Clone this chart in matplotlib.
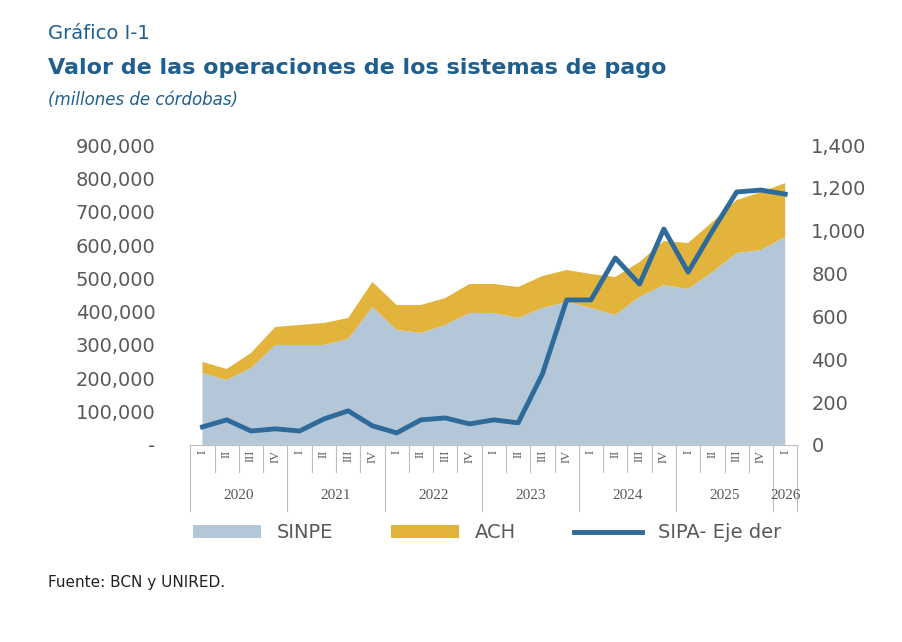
import numpy as np
import matplotlib.pyplot as plt
from matplotlib.ticker import FuncFormatter

quarters = ["I", "II", "III", "IV"] * 6 + ["I"]
years = ["2020", "2021", "2022", "2023", "2024", "2025", "2026"]
sinpe = [216, 195, 231, 300, 300, 300, 318, 414, 345, 336, 360, 396, 396, 381, 411, 429,
         411, 390, 444, 480, 468, 519, 576, 585, 624]
total = [249, 228, 276, 354, 360, 366, 381, 489, 420, 420, 441, 483, 483, 474, 507, 525,
         513, 504, 549, 612, 606, 669, 735, 759, 786]
sipa = [84, 117, 65, 75, 65, 121, 159, 89, 56, 117, 126, 98, 117, 103, 331, 677,
        677, 873, 751, 1008, 807, 999, 1181, 1190, 1171]

sinpe = np.array(sinpe) * 1000
ach = np.array(total) * 1000 - sinpe
x = np.arange(len(quarters))

blue = "#1f5f8f"
gray = "#595959"
plt.rcParams['font.family'] = ['DejaVu Sans']

fig = plt.figure(figsize=(9.02, 6.42), dpi=100)
ax = fig.add_axes([0.211, 0.307, 0.673, 0.467])
ax.stackplot(x, sinpe, ach, colors=["#b3c7d9", "#e2b43c"], labels=["SINPE", "ACH"])
ax.set_xlim(-0.5, len(x) - 0.5)
ax.set_ylim(0, 900000)
ax.set_yticks(np.arange(0, 900001, 100000))
ax.yaxis.set_major_formatter(FuncFormatter(lambda v, p: "-" if v == 0 else f"{int(v):,}"))
ax.tick_params(axis='y', length=0, labelsize=14, labelcolor=gray, pad=25)
ax.set_xticks([])
for s in ["top", "right", "left"]:
    ax.spines[s].set_visible(False)
ax.spines["bottom"].set_color("#bfbfbf")

ax2 = ax.twinx()
ax2.plot(x, sipa, color="#2e6a9a", lw=3.5, solid_joinstyle="round", label="SIPA- Eje der")
ax2.set_ylim(0, 1400)
ax2.set_yticks(np.arange(0, 1401, 200))
ax2.yaxis.set_major_formatter(FuncFormatter(lambda v, p: f"{int(v):,}"))
ax2.tick_params(axis='y', length=0, labelsize=14, labelcolor=gray, pad=10)
for s in ax2.spines.values():
    s.set_visible(False)

# category axis below plot
tr = ax.get_xaxis_transform()
for i, q in enumerate(quarters):
    ax.text(i, -0.015, q, transform=tr, rotation=90, ha="center", va="top",
            fontsize=9, family="Liberation Serif", color=gray)
for b in np.arange(-0.5, len(x), 1):
    yr_edge = int(round(b + 0.5)) % 4 == 0 or b == len(x) - 0.5
    ax.plot([b, b], [0, -0.22 if yr_edge else -0.09], transform=tr, color="#bfbfbf",
            lw=0.8, clip_on=False)
for k, yr in enumerate(years):
    c = 4 * k + 1.5 if k < 6 else 24
    ax.text(c, -0.17, yr, transform=tr, ha="center", va="center", fontsize=11,
            family="Liberation Serif", color=gray)

fig.text(0.053, 0.94, "Gráfico I-1", fontsize=14, color=blue)
fig.text(0.053, 0.885, "Valor de las operaciones de los sistemas de pago", fontsize=16,
         color=blue, weight="bold")
fig.text(0.053, 0.837, "(millones de córdobas)", fontsize=12, color=blue, style="italic")
fig.text(0.053, 0.085, "Fuente: BCN y UNIRED.", fontsize=11, color="#222222")

h1, l1 = ax.get_legend_handles_labels()
h2, l2 = ax2.get_legend_handles_labels()
fig.legend(h1 + h2, l1 + l2, loc="center", bbox_to_anchor=(0.54, 0.17), ncol=3,
           frameon=False, fontsize=14, labelcolor=gray, handlelength=3.5,
           columnspacing=3)

fig.savefig("out.png", dpi=100)
